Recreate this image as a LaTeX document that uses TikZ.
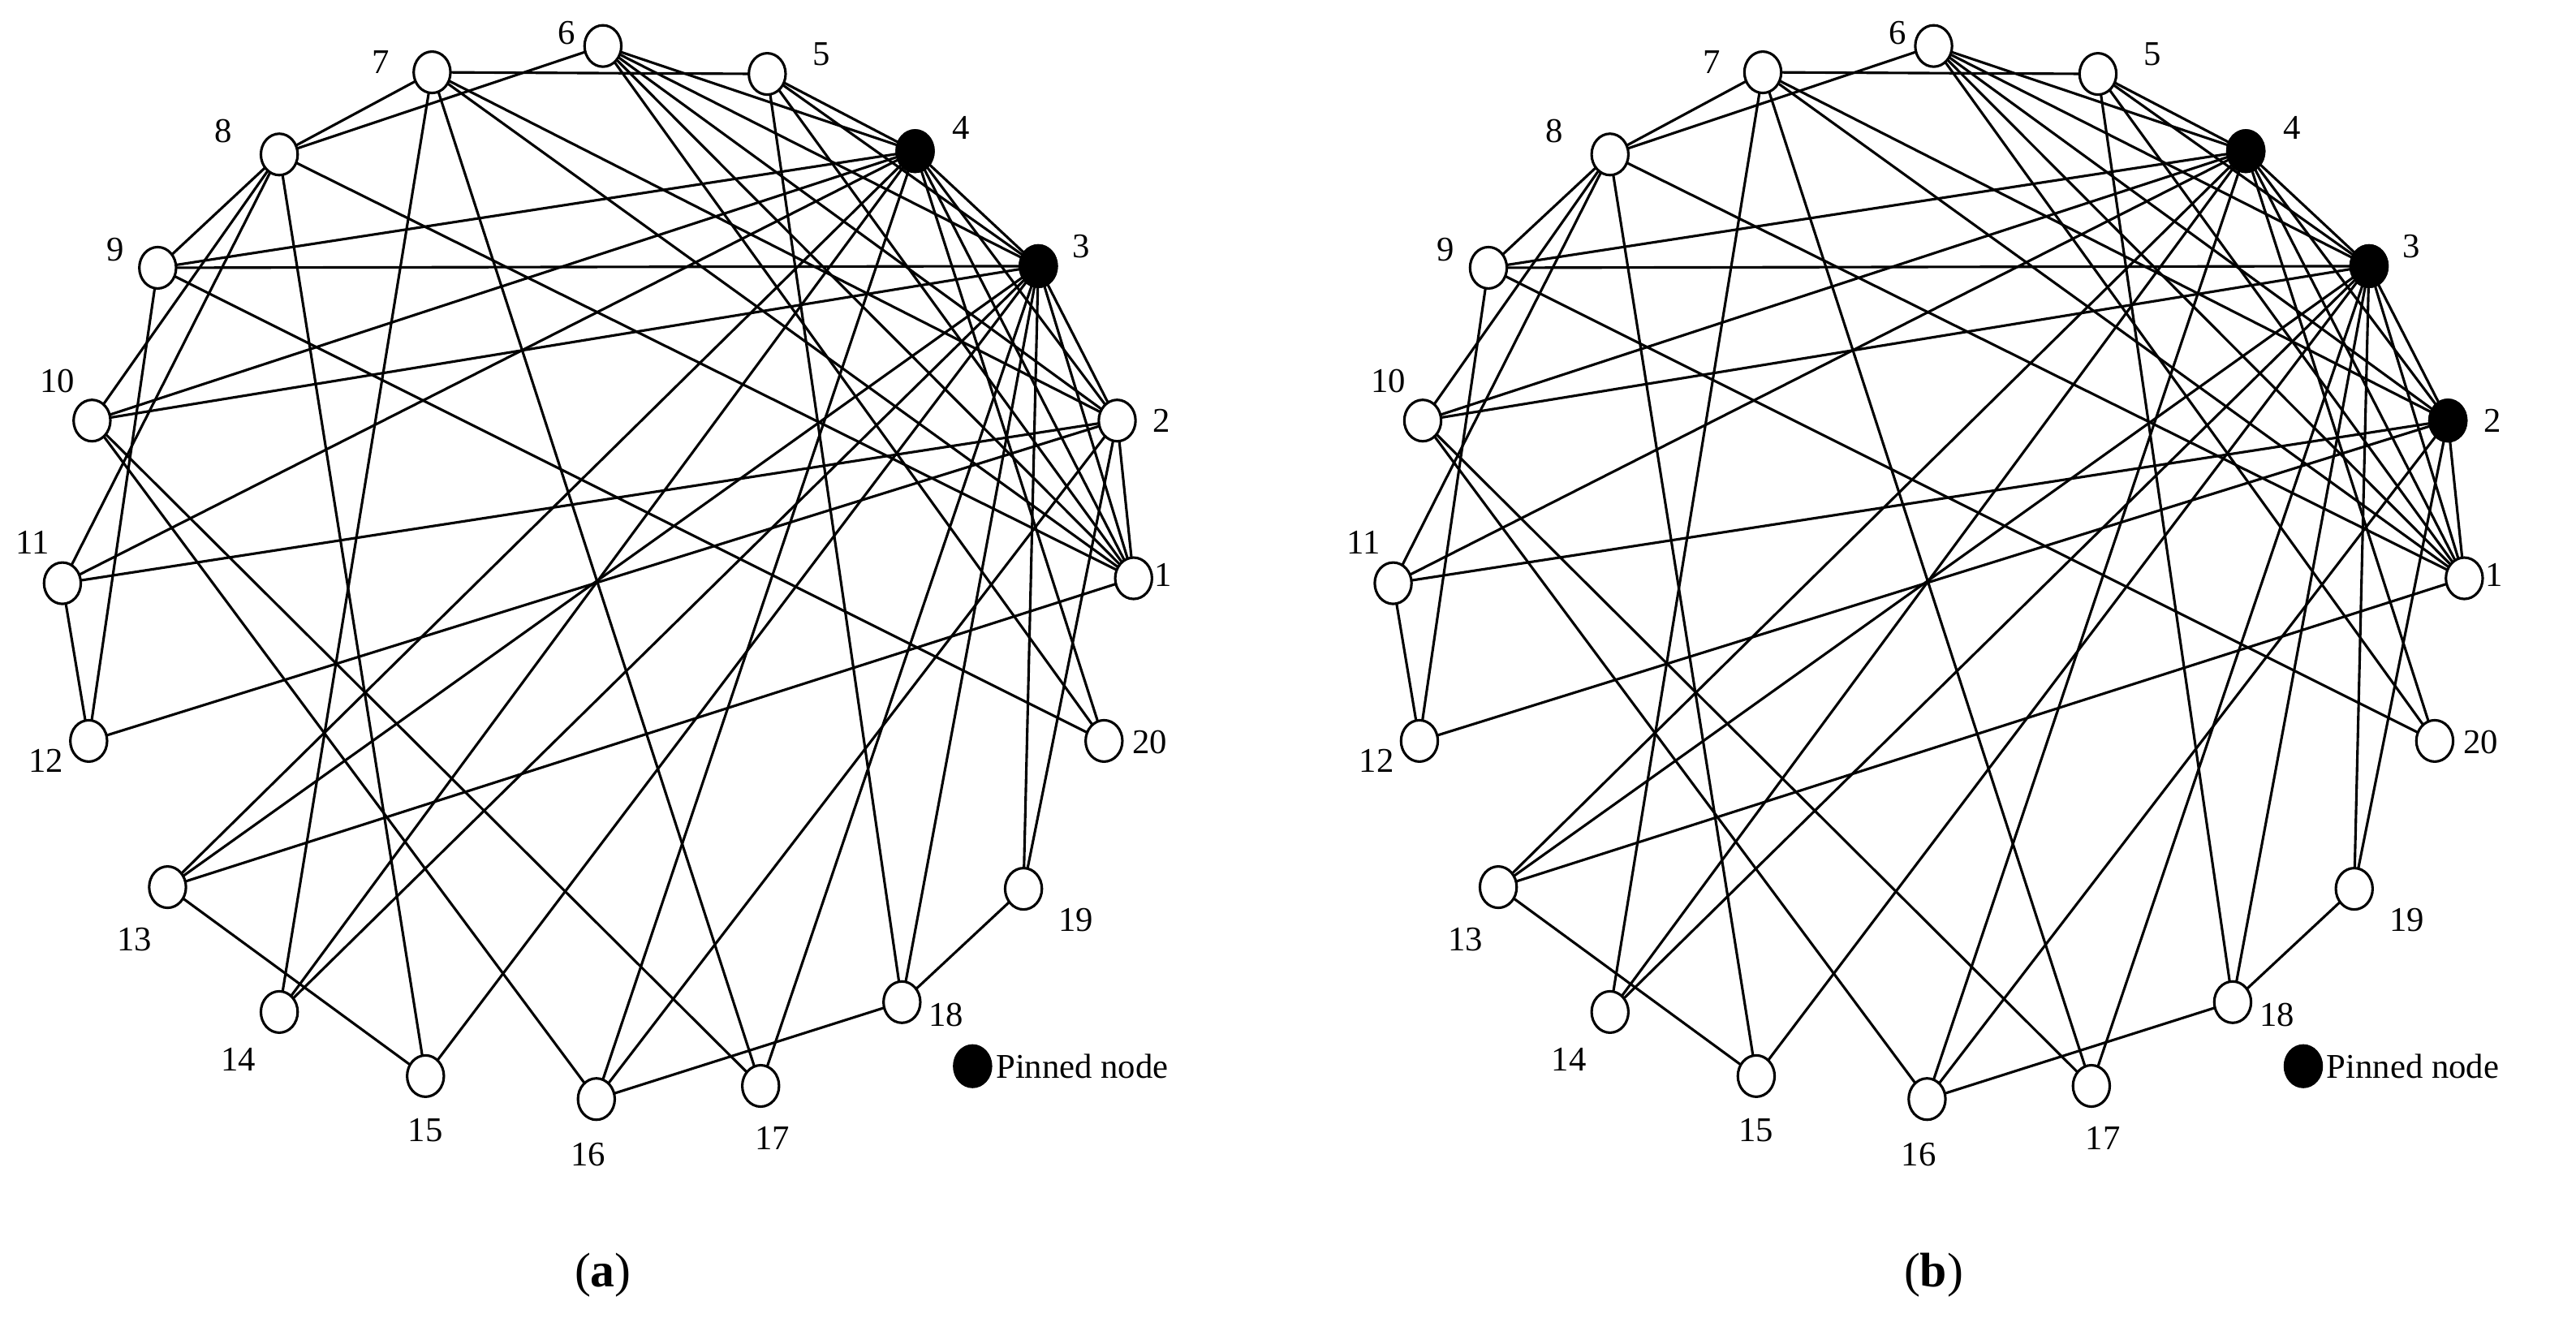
\documentclass[tikz,border=0pt]{standalone}
\usepackage{fontspec}
\setmainfont{Liberation Serif}
\usetikzlibrary{shapes.geometric}
\begin{document}
\begin{tikzpicture}[x=0.25mm,y=-0.25mm,
  vtx/.style={ellipse,draw,line width=1.1pt,fill=white,minimum width=5.6mm,minimum height=6.3mm,inner sep=0pt},
  pin/.style={vtx,fill=black},
  lab/.style={font=\fontsize{15}{18}\selectfont,inner sep=0pt},
  edge/.style={line width=1.1pt}]
\useasboundingbox (0,0) rectangle (1568,810);
\foreach \sh/\pre/\pins in {0/a/{3,4},810/b/{2,3,4}}{
\begin{scope}[xshift=\sh*0.25mm,name prefix=\pre-]
\foreach \i/\x/\y in {1/690/352,2/680/256,3/632/162,4/557/92,5/467/45,6/367/28,7/263/44,8/170/94,9/96/163,10/56/256,11/38/355,12/54/451,13/102/540,14/170/616,15/259/655,16/363/669,17/463/661,18/549/610,19/623/541,20/672/451}
  \coordinate (\i) at (\x,\y);
\foreach \a/\b in {7/5,7/8,7/14,7/17,7/2,7/1,6/8,6/4,6/3,6/2,6/1,6/20,5/4,5/3,5/1,5/18,8/9,8/10,8/11,8/15,8/1,9/12,9/4,9/3,9/20,10/4,10/3,10/16,10/17,11/12,11/4,11/2,12/2,13/15,13/4,13/3,13/1,14/4,14/3,15/3,16/18,16/4,16/2,17/3,18/19,18/3,19/3,19/2,20/4,4/3,4/2,4/1,3/2,3/1,2/1}
  \draw[edge] (\a) -- (\b);
\foreach \i in {1,...,20}
  \node[vtx] (n\i) at (\i) {};
\foreach \i in \pins
  \node[pin] (p\i) at (\i) {};
\foreach \i/\x/\y in {1/708/350,2/707/256,3/658/150,4/585/78,5/500/33,6/345/20,7/232/38,8/136/80,9/70/152,10/35/232,11/20/330,12/28/463,13/82/572,14/145/645,15/259/688,16/358/703,17/470/693,18/576/618,19/655/560,20/700/452}
  \node[lab] (l\i) at (\x,\y) {\i};
\node[pin] (leg) at (592,649) {};
\node[lab,anchor=west] (legt) at (606,649) {Pinned node};
\end{scope}}
\node[font=\fontsize{21}{25}\selectfont] (capa) at (367,776) {(\textbf{a})};
\node[font=\fontsize{21}{25}\selectfont] (capb) at (1177,776) {(\textbf{b})};
\end{tikzpicture}
\end{document}
